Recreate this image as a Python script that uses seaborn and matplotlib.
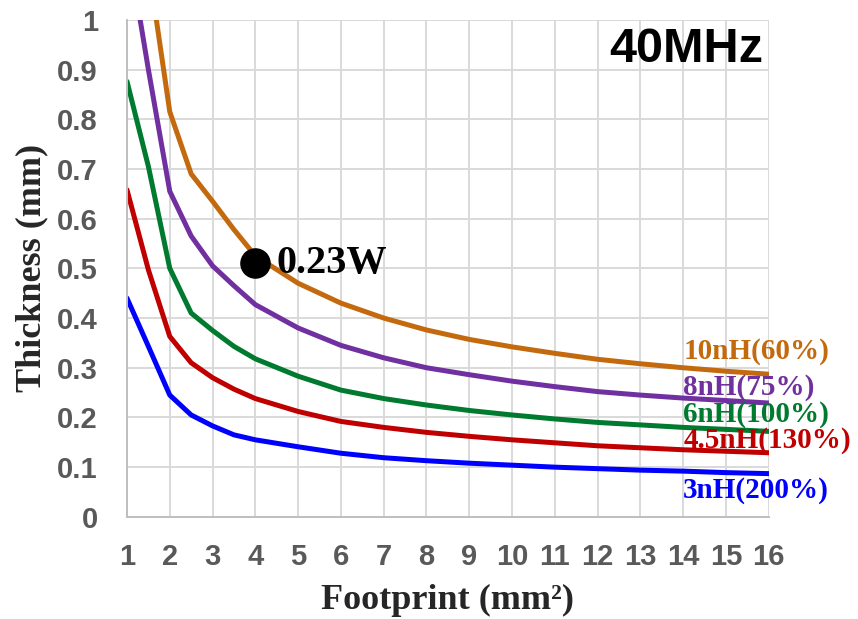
import numpy as np
import pandas as pd
import matplotlib
matplotlib.use("Agg")
import matplotlib.pyplot as plt
import seaborn as sns

# Footprint (mm^2) sample points
footprint = [1, 1.5, 2, 2.5, 3, 3.5, 4, 5, 6, 7, 8, 9, 10, 11, 12, 13, 14, 15, 16]

# Required thickness (mm) for each inductance target at 40 MHz
t_10nH = [1.40, 1.11, 0.815, 0.69, 0.635, 0.578, 0.525, 0.470, 0.430, 0.400, 0.376, 0.357, 0.342, 0.329, 0.317, 0.308, 0.300, 0.293, 0.287]
t_8nH = [1.16, 0.90, 0.655, 0.565, 0.505, 0.465, 0.427, 0.380, 0.345, 0.320, 0.300, 0.286, 0.273, 0.262, 0.252, 0.245, 0.239, 0.234, 0.229]
t_6nH = [0.876, 0.705, 0.500, 0.410, 0.375, 0.343, 0.318, 0.283, 0.255, 0.238, 0.225, 0.214, 0.205, 0.197, 0.190, 0.185, 0.180, 0.176, 0.172]
t_4_5nH = [0.658, 0.497, 0.363, 0.310, 0.280, 0.257, 0.238, 0.212, 0.192, 0.180, 0.170, 0.162, 0.155, 0.149, 0.143, 0.139, 0.135, 0.132, 0.129]
t_3nH = [0.440, 0.343, 0.245, 0.205, 0.183, 0.165, 0.155, 0.141, 0.128, 0.119, 0.113, 0.108, 0.104, 0.100, 0.097, 0.094, 0.092, 0.089, 0.087]

series_names = ["10nH(60%)", "8nH(75%)", "6nH(100%)", "4.5nH(130%)", "3nH(200%)"]
series_values = [t_10nH, t_8nH, t_6nH, t_4_5nH, t_3nH]
series_colors = ["#C46A0E", "#7030A0", "#007A2F", "#C00000", "#0000FF"]
label_y = [0.332, 0.260, 0.206, 0.153, 0.054]

# Highlighted design point
point_x = [4]
point_y = [0.51]
point_text = "0.23W"

x_ticks = list(range(1, 17))
y_ticks = [0, 0.1, 0.2, 0.3, 0.4, 0.5, 0.6, 0.7, 0.8, 0.9, 1]
y_tick_labels = ["0", "0.1", "0.2", "0.3", "0.4", "0.5", "0.6", "0.7", "0.8", "0.9", "1"]

sns.set_theme(style="white")
plt.rcParams["font.family"] = ["Liberation Sans", "DejaVu Sans"]

df = pd.concat(
    [pd.DataFrame({"Footprint": footprint, "Thickness": v, "Inductance": n})
     for n, v in zip(series_names, series_values)],
    ignore_index=True,
)

fig = plt.figure(figsize=(8.58, 6.19), dpi=100)
ax = fig.add_axes([0.148, 0.165, 0.748, 0.803])

sns.lineplot(
    data=df, x="Footprint", y="Thickness", hue="Inductance",
    hue_order=series_names, palette=series_colors,
    linewidth=3.6, legend=False, ax=ax, sort=True,
)
for line in ax.get_lines():
    line.set_solid_joinstyle("round")

ax.set_xlim(1, 16)
ax.set_ylim(0, 1)
ax.set_xticks(x_ticks)
ax.set_xticklabels([str(t) for t in x_ticks])
ax.set_yticks(y_ticks)
ax.set_yticklabels(y_tick_labels)
ax.grid(True, color="#D9D9D9", linewidth=1.4)
ax.set_axisbelow(True)
for side in ["top", "right"]:
    ax.spines[side].set_visible(False)
for side in ["left", "bottom"]:
    ax.spines[side].set_color("#BFBFBF")
    ax.spines[side].set_linewidth(1.4)
ax.tick_params(axis="both", length=0, colors="#595959", labelsize=21)
ax.tick_params(axis="y", pad=21)
ax.tick_params(axis="x", pad=19)
for lbl in ax.get_xticklabels() + ax.get_yticklabels():
    lbl.set_fontweight("bold")

serif = ["Liberation Serif", "DejaVu Serif"]
ax.set_xlabel("Footprint (mm²)", fontsize=26, fontweight="bold",
              family=serif, labelpad=9)
ax.set_ylabel("Thickness (mm)", fontsize=26, fontweight="bold",
              family=serif, labelpad=6)

# Series labels at the right end of each curve
for name, color, ly in zip(series_names, series_colors, label_y):
    ax.text(14.0, ly, name, color=color, fontsize=21, fontweight="bold",
            family=serif, ha="left", va="center", clip_on=False)

# Design point marker and annotation
ax.plot(point_x, point_y, "o", color="black", markersize=21, zorder=5)
ax.text(point_x[0] + 0.5, point_y[0], point_text, fontsize=29, fontweight="bold",
        family=serif, ha="left", va="center", color="black")

ax.text(14.06, 0.94, "40MHz", fontsize=35, fontweight="bold", ha="center",
        va="center", color="black")

fig.savefig("out.png", dpi=100)
